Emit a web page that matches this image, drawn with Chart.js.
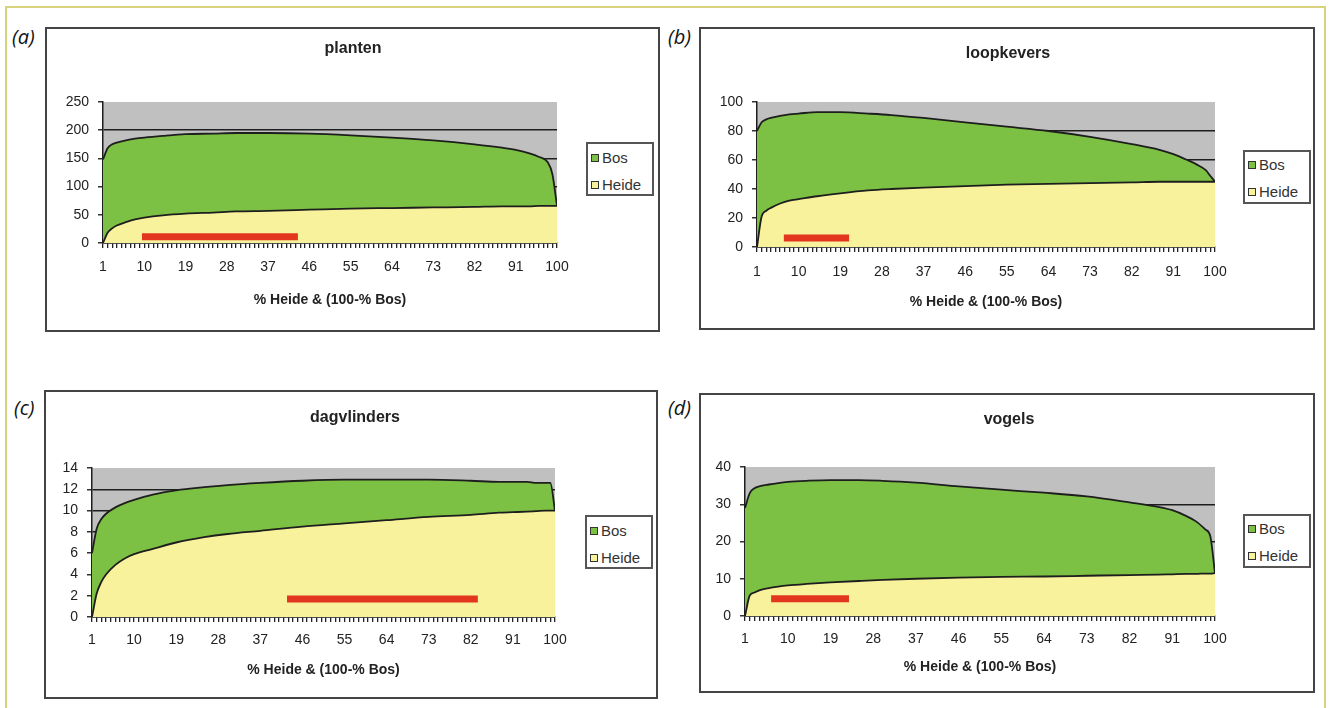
<!DOCTYPE html>
<html>
<head>
<meta charset="utf-8">
<script src="https://cdn.jsdelivr.net/npm/chart.js@4.4.1/dist/chart.umd.min.js"></script>
<style>
  body { margin: 0; background: #fff; width: 1329px; height: 708px; overflow: hidden; position: relative; font-family: "Liberation Sans", Arial, sans-serif; }
  .frame { position: absolute; left: 5px; top: 6px; width: 1321px; height: 730px; border: 2px solid #d8d27c; box-sizing: border-box; }
  .box { position: absolute; border: 2px solid #444; box-sizing: border-box; background: #fff; }
  .box .inner { position: absolute; left: 0; top: 0; right: 0; bottom: 0; }
  .tag { position: absolute; font: italic 20px "Open Sans", sans-serif; color: #111; line-height: 22px; }
  .title { position: absolute; font: bold 16px "Liberation Sans", Arial, sans-serif; color: #222; transform: translate(-50%, -50%); white-space: nowrap; }
  .legend { position: absolute; width: 68px; height: 54px; border: 2px solid #555; box-sizing: border-box; background: #fff; font: 15px "Liberation Sans", Arial, sans-serif; color: #333; }
  .legend .row { position: absolute; left: 3px; height: 16px; line-height: 16px; white-space: nowrap; }
  .legend .sw { display: inline-block; width: 6px; height: 6px; border: 1px solid #333; margin-right: 3px; vertical-align: 1px; }
</style>
</head>
<body>
<div class="frame"></div>

<div class="tag" style="left:12px;top:26px">(a)</div>
<div class="tag" style="left:668px;top:26px">(b)</div>
<div class="tag" style="left:14px;top:397px">(c)</div>
<div class="tag" style="left:668px;top:397px">(d)</div>

<div class="box" style="left:45px;top:27px;width:615px;height:305px"><div class="inner"><canvas id="chart-a"></canvas></div></div>
<div class="box" style="left:699px;top:27px;width:616px;height:303px"><div class="inner"><canvas id="chart-b"></canvas></div></div>
<div class="box" style="left:44px;top:390px;width:614px;height:309px"><div class="inner"><canvas id="chart-c"></canvas></div></div>
<div class="box" style="left:699px;top:393px;width:616px;height:300px"><div class="inner"><canvas id="chart-d"></canvas></div></div>

<div class="title" style="left:353px;top:48px">planten</div>
<div class="title" style="left:1008px;top:53px">loopkevers</div>
<div class="title" style="left:355px;top:417px">dagvlinders</div>
<div class="title" style="left:1009px;top:419px">vogels</div>

<div class="legend" style="left:586px;top:142px">
  <div class="row" style="top:6px"><span class="sw" style="background:#7cc143"></span>Bos</div>
  <div class="row" style="top:33px"><span class="sw" style="background:#f9f29c"></span>Heide</div>
</div>
<div class="legend" style="left:1243px;top:150px">
  <div class="row" style="top:5px"><span class="sw" style="background:#7cc143"></span>Bos</div>
  <div class="row" style="top:32px"><span class="sw" style="background:#f9f29c"></span>Heide</div>
</div>
<div class="legend" style="left:585px;top:515px">
  <div class="row" style="top:6px"><span class="sw" style="background:#7cc143"></span>Bos</div>
  <div class="row" style="top:33px"><span class="sw" style="background:#f9f29c"></span>Heide</div>
</div>
<div class="legend" style="left:1243px;top:514px">
  <div class="row" style="top:5px"><span class="sw" style="background:#7cc143"></span>Bos</div>
  <div class="row" style="top:32px"><span class="sw" style="background:#f9f29c"></span>Heide</div>
</div>

<script>
const GREEN = '#7cc143';
const YELLOW = '#f9f29c';
const GREY = '#c0c0c0';
const RED = '#e2361f';
const INK = '#1e1e1e';

const XS = [1, 2, 3, 4, 6, 8, 10, 14, 19, 25, 30, 37, 46, 55, 64, 73, 82, 88, 91, 94, 96, 98, 99, 100];
const XTICKS = [1, 10, 19, 28, 37, 46, 55, 64, 73, 82, 91, 100];

// (a) planten
const A_YTICKS = [0, 50, 100, 150, 200, 250];
const A_HEIDE = [0, 18, 26, 31, 37, 42, 45, 49, 52, 54, 56, 57, 59, 61, 62, 63, 64, 65, 65, 65, 66, 66, 66, 66];
const A_BOS = [148, 150, 149, 147, 145, 143, 142, 141, 141, 140, 139, 138, 135, 130, 125, 119, 111, 104, 100, 94, 87, 77, 56, 0];
const A_RED_X = [9.5, 43.5];
const A_RED_Y = [11, 11];

// (b) loopkevers
const B_YTICKS = [0, 20, 40, 60, 80, 100];
const B_HEIDE = [0, 21, 25, 27, 30, 32, 33, 35, 37, 39, 40, 41, 42, 43, 43.5, 44, 44.5, 45, 45, 45, 45, 45, 45, 45];
const B_BOS = [80, 65, 63, 62, 60.5, 59.5, 59, 58, 56, 53, 51, 48, 44, 40, 36.5, 32, 26.5, 22, 19, 15, 12, 8, 4, 0];
const B_RED_X = [6.8, 20.9];
const B_RED_Y = [6.2, 6.2];

// (c) dagvlinders
const C_YTICKS = [0, 2, 4, 6, 8, 10, 12, 14];
const C_HEIDE = [0, 2.2, 3.3, 4.0, 4.9, 5.5, 5.9, 6.4, 7.0, 7.5, 7.8, 8.1, 8.5, 8.8, 9.1, 9.4, 9.6, 9.8, 9.85, 9.9, 9.95, 10, 10, 10];
const C_BOS = [6.0, 6.1, 5.9, 5.7, 5.4, 5.2, 5.1, 5.1, 4.9, 4.7, 4.6, 4.5, 4.3, 4.1, 3.8, 3.5, 3.2, 2.9, 2.85, 2.8, 2.65, 2.6, 2.6, 0];
const C_RED_X = [42.7, 83.5];
const C_RED_Y = [1.7, 1.7];

// (d) vogels
const D_YTICKS = [0, 10, 20, 30, 40];
const D_HEIDE = [0, 5.5, 6.3, 6.9, 7.5, 7.9, 8.2, 8.6, 9.0, 9.4, 9.7, 10.0, 10.3, 10.5, 10.6, 10.8, 11.0, 11.1, 11.2, 11.3, 11.3, 11.4, 11.4, 11.5];
const D_BOS = [29, 27.5, 28, 27.9, 27.8, 27.8, 27.8, 27.7, 27.5, 27.1, 26.6, 25.8, 24.5, 23.4, 22.5, 21.3, 19.5, 18.2, 17.2, 15.5, 14.1, 11.8, 10.1, 0];
const D_RED_X = [6.5, 22.9];
const D_RED_Y = [4.6, 4.6];

Chart.defaults.font.family = '"Liberation Sans", Arial, sans-serif';
Chart.defaults.font.size = 14;
Chart.defaults.color = '#222';
Chart.defaults.animation = false;

const MINOR = Array.from({ length: 100 }, (_, i) => i + 1); // one tick mark per category

const plotBg = {
  id: 'plotBg',
  beforeDraw(chart) {
    const { ctx, chartArea: a } = chart;
    ctx.save();
    ctx.fillStyle = GREY;
    ctx.fillRect(a.left, a.top, a.right - a.left, a.bottom - a.top);
    ctx.restore();
  },
};

const pts = (xs, ys) => xs.map((x, i) => ({ x, y: ys[i] }));

function mount(id, p) {
  const top = p.yticks[p.yticks.length - 1];
  return new Chart(document.getElementById(id), {
    type: 'line',
    data: {
      datasets: [
        { label: 'range', data: pts(p.redX, p.redY), stack: 'bar', borderColor: RED, borderWidth: 7, borderCapStyle: 'butt', pointRadius: 0, fill: false },
        { label: 'Heide', data: pts(XS, p.heide), borderColor: INK, borderWidth: 1.8, backgroundColor: YELLOW, fill: 'origin', pointRadius: 0, cubicInterpolationMode: 'monotone' },
        { label: 'Bos', data: pts(XS, p.bos), borderColor: INK, borderWidth: 1.8, backgroundColor: GREEN, fill: '-1', pointRadius: 0, cubicInterpolationMode: 'monotone' },
      ],
    },
    options: {
      responsive: true,
      maintainAspectRatio: false,
      layout: { padding: { left: 0, top: p.padTop, right: p.padRight, bottom: 0 } },
      plugins: { legend: { display: false }, tooltip: { enabled: false } },
      scales: {
        x: {
          type: 'linear', min: 1, max: 100,
          afterBuildTicks: s => { s.ticks = MINOR.map(v => ({ value: v })); },
          afterFit: s => { s.height = p.xH; },
          ticks: { autoSkip: false, maxRotation: 0, padding: p.xPad, callback: v => (XTICKS.includes(v) ? String(v) : '') },
          grid: { drawOnChartArea: false, tickLength: 5, color: '#222', lineWidth: 1.3 },
          border: { color: INK, width: 1.5 },
          title: { display: true, text: '% Heide & (100-% Bos)', font: { size: 14, weight: 'bold' }, color: '#222', padding: { top: 0, bottom: p.titlePad } },
        },
        y: {
          stacked: true, min: 0, max: top,
          afterBuildTicks: s => { s.ticks = p.yticks.map(v => ({ value: v })); },
          afterFit: s => { s.width = p.yW; },
          ticks: { padding: 9 },
          grid: { color: c => (c.tick && c.tick.value === top ? 'rgba(0,0,0,0)' : INK), lineWidth: 1.5, tickLength: 5, tickColor: '#333' },
          border: { color: INK, width: 1.5 },
        },
      },
    },
    plugins: [plotBg],
  });
}

mount('chart-a', { heide: A_HEIDE, bos: A_BOS, yticks: A_YTICKS, redX: A_RED_X, redY: A_RED_Y, yW: 56, padTop: 73, padRight: 101, xH: 87, xPad: 11, titlePad: 21 });
mount('chart-b', { heide: B_HEIDE, bos: B_BOS, yticks: B_YTICKS, redX: B_RED_X, redY: B_RED_Y, yW: 56, padTop: 73, padRight: 98, xH: 81, xPad: 12, titlePad: 17 });
mount('chart-c', { heide: C_HEIDE, bos: C_BOS, yticks: C_YTICKS, redX: C_RED_X, redY: C_RED_Y, yW: 46, padTop: 76, padRight: 101, xH: 80, xPad: 10, titlePad: 18 });
mount('chart-d', { heide: D_HEIDE, bos: D_BOS, yticks: D_YTICKS, redX: D_RED_X, redY: D_RED_Y, yW: 44, padTop: 72, padRight: 98, xH: 75, xPad: 10, titlePad: 15 });
</script>
</body>
</html>
